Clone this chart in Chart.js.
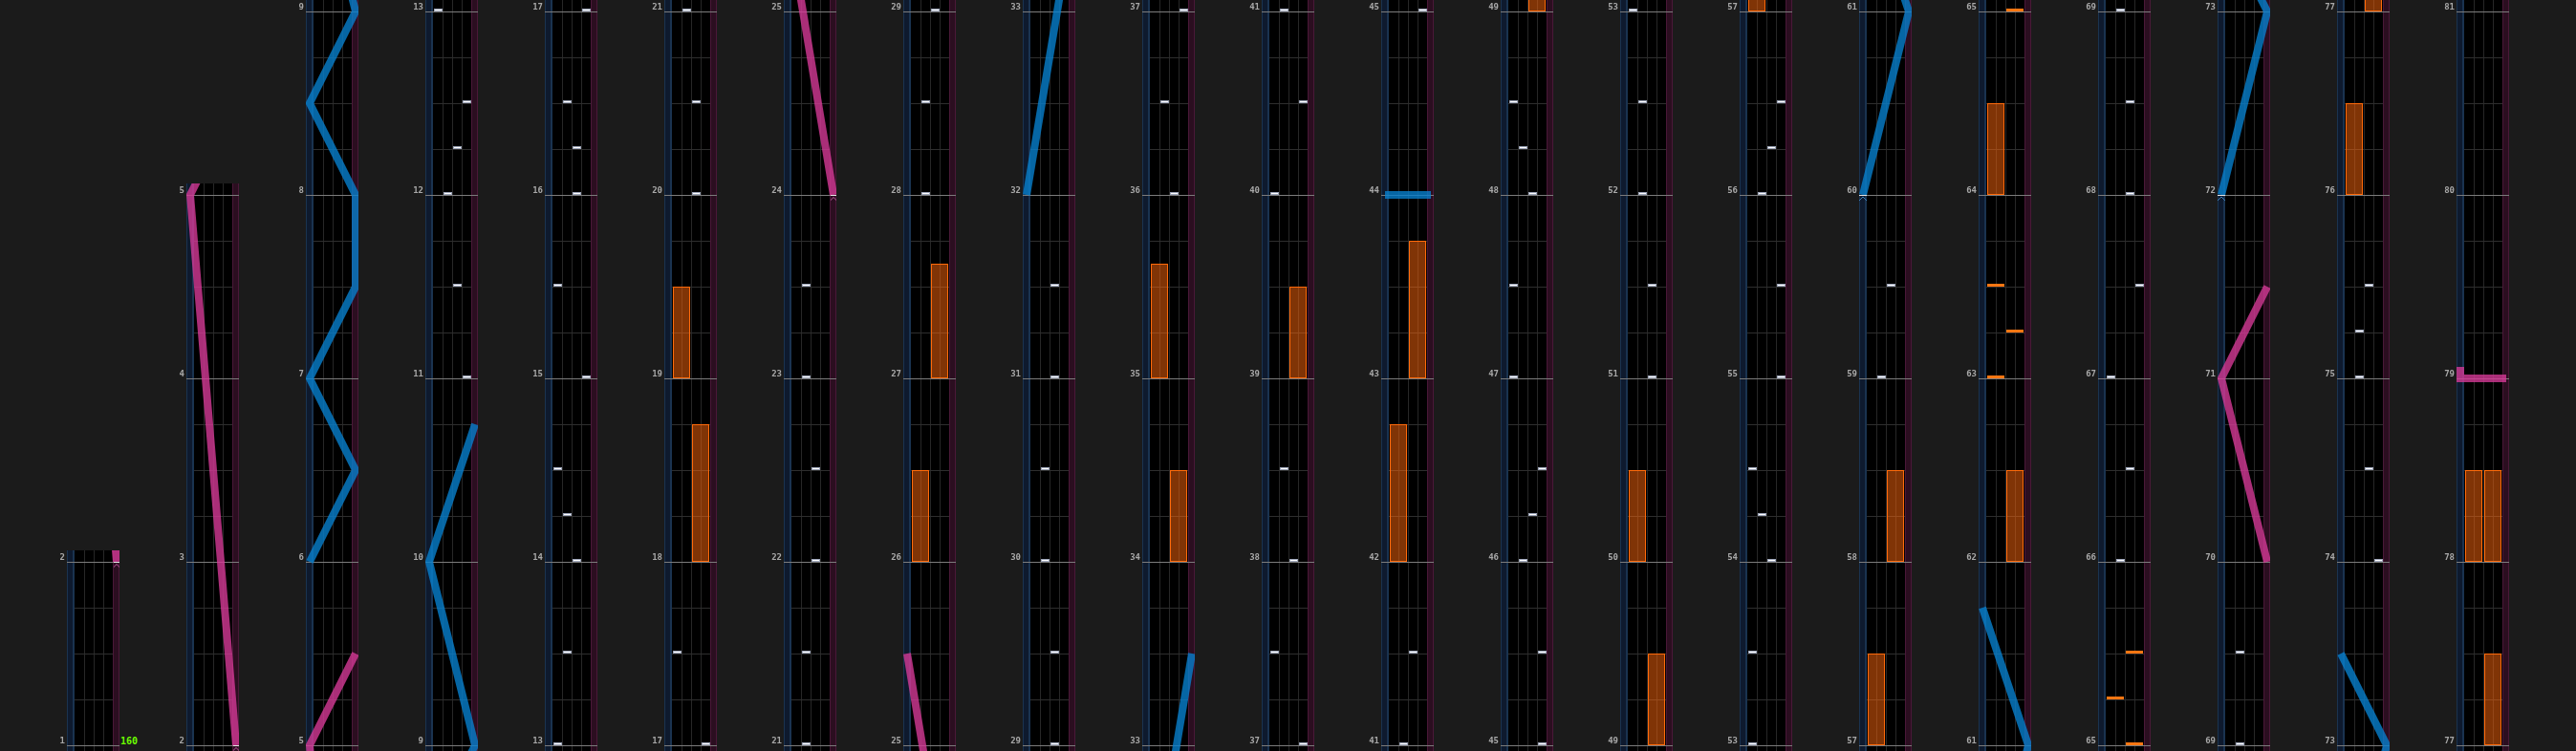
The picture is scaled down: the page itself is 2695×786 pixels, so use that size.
<!DOCTYPE html>
<html>
<head>
<meta charset="utf-8">
<script src="https://cdn.jsdelivr.net/npm/chart.js@4.4.1/dist/chart.umd.min.js"></script>
<style>
  html, body { margin: 0; padding: 0; background: #1b1b1b; }
  #board { position: relative; width: 2695px; height: 786px; overflow: hidden; }
  #board canvas { position: absolute; }
  .bpm { position: absolute; color: #6cff00; font: bold 10px "DejaVu Sans Mono", monospace; line-height: 10px; }
</style>
</head>
<body>
<div id="board"></div>
<script>
// measure range [bottom, top] shown in each column
const columns = [
  [1, 2], [2, 5], [5, 9], [9, 13], [13, 17], [17, 21], [21, 25], [25, 29], [29, 33], [33, 37],
  [37, 41], [41, 45], [45, 49], [49, 53], [53, 57], [57, 61], [61, 65], [65, 69], [69, 73],
  [73, 77], [77, 81]
];

// [measure, lane 0-3]
const btNotes = [
  [11.0, 3], [11.5, 2], [12.0, 1], [12.25, 2], [12.5, 3], [13.0, 0],
  [13.5, 1], [14.0, 2], [14.25, 1], [14.5, 0], [15.0, 3], [15.5, 0], [16.0, 2], [16.25, 2], [16.5, 1], [17.0, 3],
  [17.5, 0], [20.0, 2], [20.5, 2], [21.0, 1],
  [21.5, 1], [22.0, 2], [22.5, 2], [23.0, 1], [23.5, 1],
  [28.0, 1], [28.5, 1], [29.0, 2],
  [29.5, 2], [30.0, 1], [30.5, 1], [31.0, 2], [31.5, 2],
  [36.0, 2], [36.5, 1], [37.0, 3],
  [37.5, 0], [38.0, 2], [38.5, 1], [40.0, 0], [40.5, 3], [41.0, 1],
  [41.5, 2], [45.0, 3],
  [45.5, 3], [46.0, 1], [46.25, 2], [46.5, 3], [47.0, 0], [47.5, 0], [48.0, 2], [48.25, 1], [48.5, 0],
  [51.0, 2], [51.5, 2], [52.0, 1], [52.5, 1], [53.0, 0],
  [53.5, 0], [54.0, 2], [54.25, 1], [54.5, 0], [55.0, 3], [55.5, 3], [56.0, 1], [56.25, 2], [56.5, 3],
  [59.0, 1], [59.5, 2],
  [66.0, 1], [66.5, 2], [67.0, 0], [67.5, 3], [68.0, 2], [68.5, 2], [69.0, 1],
  [69.5, 1],
  [74.0, 3], [74.5, 2], [75.0, 1], [75.25, 1], [75.5, 2]
];

// [measure, side 0 = lanes 0-1, 1 = lanes 2-3]
const fxChips = [[63.0, 0], [63.25, 1], [63.5, 0], [65.0, 1], [65.25, 0], [65.5, 1]];

// [start, end, side]
const fxLongs = [
  [18.0, 18.75, 1], [19.0, 19.5, 0], [26.0, 26.5, 0], [27.0, 27.625, 1], [34.0, 34.5, 1],
  [35.0, 35.625, 0], [39.0, 39.5, 1], [42.0, 42.75, 0], [43.0, 43.75, 1], [49.0, 49.5, 1],
  [50.0, 50.5, 0], [57.0, 57.5, 0], [58.0, 58.5, 1], [62.0, 62.5, 1], [64.0, 64.5, 0],
  [76.0, 76.5, 0], [77.0, 77.5, 1], [78.0, 78.5, 0], [78.0, 78.5, 1]
];

// laser paths: [measure, position 0 = left .. 1 = right]
const blueLasers = [
  [[6.0, 0], [6.5, 1], [7.0, 0], [7.5, 1], [8.0, 1], [8.5, 0], [9.0, 1], [10.0, 0], [10.75, 1]],
  [[32.0, 0], [33.5, 1]],
  [[44.0, 0], [44.0, 1], [44.0625, 1]],
  [[60.0, 0], [61.0, 1], [61.75, 0]],
  [[72.0, 0], [73.0, 1], [73.5, 0]]
];
const pinkLasers = [
  [[2.0, 1], [5.0, 0], [5.5, 1]],
  [[24.0, 1], [25.5, 0]],
  [[70.0, 1], [71.0, 0], [71.5, 1]],
  [[79.0, 1], [79.0, 0], [79.0625, 0]]
];

const bpmChanges = [[1, 160]];

const PX = 192;            // pixels per measure
const PAD_TOP = 12, PAD_BOTTOM = 6;
const COL_PITCH = 125, FIRST_LANE_X = 78;
const AXIS_W = 30, STRIP_L = 8, STRIP_R = 7, LANES_W = 40;
const H = 786;

const board = document.getElementById('board');
const laserX = p => -0.4 + p * 4.75;

function makeImg(w, h, paint) {
  const c = document.createElement('canvas');
  c.width = w; c.height = h;
  paint(c.getContext('2d'));
  return c;
}
const btImg = makeImg(10, 6, g => {
  g.fillStyle = '#9ea6ba'; g.fillRect(1, 0, 9, 3);
  g.fillStyle = '#ffffff'; g.fillRect(2, 1, 7, 1);
});
const chipImg = makeImg(20, 6, g => {
  g.fillStyle = '#ff7612'; g.fillRect(1, 0, 18, 3);
});
function markerImg(w, color) {
  return makeImg(w, 14, g => {
    g.fillStyle = '#e6e6e6'; g.fillRect(0, 7, w, 1);
    g.fillStyle = color;
    const l = Math.floor((w - 1) / 2), r = Math.ceil((w - 1) / 2);
    for (let i = 0; i < 4; i++) { g.fillRect(l - i, 9 + i, 1, 1); g.fillRect(r + i, 9 + i, 1, 1); }
  });
}
const blueMark = markerImg(8, '#3d7fb8');
const pinkMark = markerImg(7, '#c2569e');

const strips = {
  id: 'strips',
  beforeDraw(chart) {
    const { ctx, chartArea: a } = chart;
    const h = a.bottom - a.top;
    ctx.save();
    ctx.fillStyle = '#000';
    ctx.fillRect(a.left, a.top, a.right - a.left, h);
    ctx.fillStyle = '#1a3350';
    ctx.fillRect(a.left - STRIP_L, a.top, STRIP_L, h);
    ctx.fillStyle = '#0e1a2e';
    ctx.fillRect(a.left - STRIP_L + 1, a.top, STRIP_L - 3, h);
    ctx.fillStyle = '#4a1838';
    ctx.fillRect(a.right, a.top, STRIP_R, h);
    ctx.fillStyle = '#2b0e20';
    ctx.fillRect(a.right + 1, a.top, STRIP_R - 2, h);
    ctx.restore();
  }
};

const isBar = c => c.tick && Number.isInteger(c.tick.value);
const wide = { left: STRIP_L, right: STRIP_R, top: 0, bottom: 0 };

function laserSet(path, color) {
  return {
    type: 'scatter', showLine: true, order: 1, clip: wide,
    data: path.map(([t, p]) => ({ x: laserX(p), y: t })),
    borderColor: color, borderWidth: 8, pointRadius: 0,
    borderJoinStyle: 'miter', borderCapStyle: 'butt'
  };
}

function columnChart([lo, hi], idx) {
  const min = lo - PAD_BOTTOM / PX, max = hi + PAD_TOP / PX;
  const h = Math.round((max - min) * PX);
  const canvas = document.createElement('canvas');
  canvas.width = AXIS_W + LANES_W + STRIP_R;
  canvas.height = h;
  canvas.style.left = (FIRST_LANE_X + idx * COL_PITCH - AXIS_W) + 'px';
  canvas.style.top = (H - h) + 'px';
  board.appendChild(canvas);

  const beats = [];
  for (let v = lo; v <= hi; v += 0.25) beats.push(v);
  const bars = beats.filter(v => Number.isInteger(v));

  const datasets = [
    {
      type: 'scatter', order: 0, clip: wide, pointStyle: blueMark, pointRadius: 5,
      data: blueLasers.map(p => ({ x: laserX(p[0][1]), y: p[0][0] }))
    },
    {
      type: 'scatter', order: 0, clip: wide, pointStyle: pinkMark, pointRadius: 5,
      data: pinkLasers.map(p => ({ x: laserX(p[0][1]), y: p[0][0] }))
    },
    ...blueLasers.map(p => laserSet(p, 'rgba(8,128,205,0.8)')),
    ...pinkLasers.map(p => laserSet(p, 'rgba(212,58,150,0.8)')),
    {
      type: 'scatter', order: 2, pointStyle: btImg, pointRadius: 5,
      data: btNotes.map(([t, lane]) => ({ x: lane + 0.5, y: t }))
    },
    {
      type: 'scatter', order: 2, pointStyle: chipImg, pointRadius: 5,
      data: fxChips.map(([t, s]) => ({ x: s * 2 + 1, y: t }))
    },
    {
      type: 'bar', order: 3, barThickness: 18, borderWidth: 1, borderSkipped: false, inflateAmount: 0,
      backgroundColor: 'rgba(255,104,12,0.5)', borderColor: '#ff6a0a',
      data: fxLongs.map(([s, e, side]) => ({ x: side * 2 + 1, y: [s, e] }))
    }
  ];

  new Chart(canvas, {
    type: 'scatter',
    data: { datasets },
    plugins: [strips],
    options: {
      responsive: false, animation: false, devicePixelRatio: 1, events: [],
      layout: { padding: 0, autoPadding: false },
      plugins: { legend: { display: false }, tooltip: { enabled: false } },
      scales: {
        x: {
          type: 'linear', min: 0, max: 4, offset: false, alignToPixels: true,
          afterBuildTicks: s => { s.ticks = [1, 2, 3].map(v => ({ value: v })); },
          afterFit: s => { s.height = 0; s.paddingLeft = 0; s.paddingRight = 0; },
          grid: { color: '#272727', drawTicks: false, offset: false },
          border: { display: false },
          ticks: { display: false }
        },
        y: {
          type: 'linear', position: 'left', min, max, alignToPixels: true, beginAtZero: false,
          afterBuildTicks: s => { s.ticks = beats.map(v => ({ value: v })); },
          afterFit: s => { s.width = AXIS_W; s.paddingTop = 0; s.paddingBottom = 0; },
          grid: {
            color: c => isBar(c) ? '#7c7c7c' : '#2e2e2e',
            tickColor: c => isBar(c) ? '#7c7c7c' : 'rgba(0,0,0,0)',
            tickLength: STRIP_L
          },
          border: { display: false },
          ticks: {
            autoSkip: false, padding: 2, labelOffset: -4, color: '#a8a8a8',
            font: { family: 'DejaVu Sans Mono', size: 9, weight: 'bold' },
            callback: v => Number.isInteger(v) ? String(v) : ''
          }
        },
        yRight: {
          type: 'linear', position: 'right', min, max, alignToPixels: true,
          afterBuildTicks: s => { s.ticks = bars.map(v => ({ value: v })); },
          afterFit: s => { s.width = STRIP_R; s.paddingTop = 0; s.paddingBottom = 0; },
          grid: { drawOnChartArea: false, color: '#7c7c7c', tickLength: STRIP_R },
          border: { display: false },
          ticks: { display: false }
        }
      }
    }
  });
  return { left: FIRST_LANE_X + idx * COL_PITCH, top: H - h, min, max, h };
}

const placed = columns.map(columnChart);

// BPM labels beside the first measure line of the column that starts there
bpmChanges.forEach(([m, bpm]) => {
  const i = columns.findIndex(c => c[0] === m);
  const p = placed[i];
  const y = p.top + Math.round((p.max - m) * PX);
  const d = document.createElement('div');
  d.className = 'bpm';
  d.textContent = String(bpm);
  d.style.left = (p.left + LANES_W + STRIP_R + 1) + 'px';
  d.style.top = (y - 9) + 'px';
  board.appendChild(d);
});
</script>
</body>
</html>
